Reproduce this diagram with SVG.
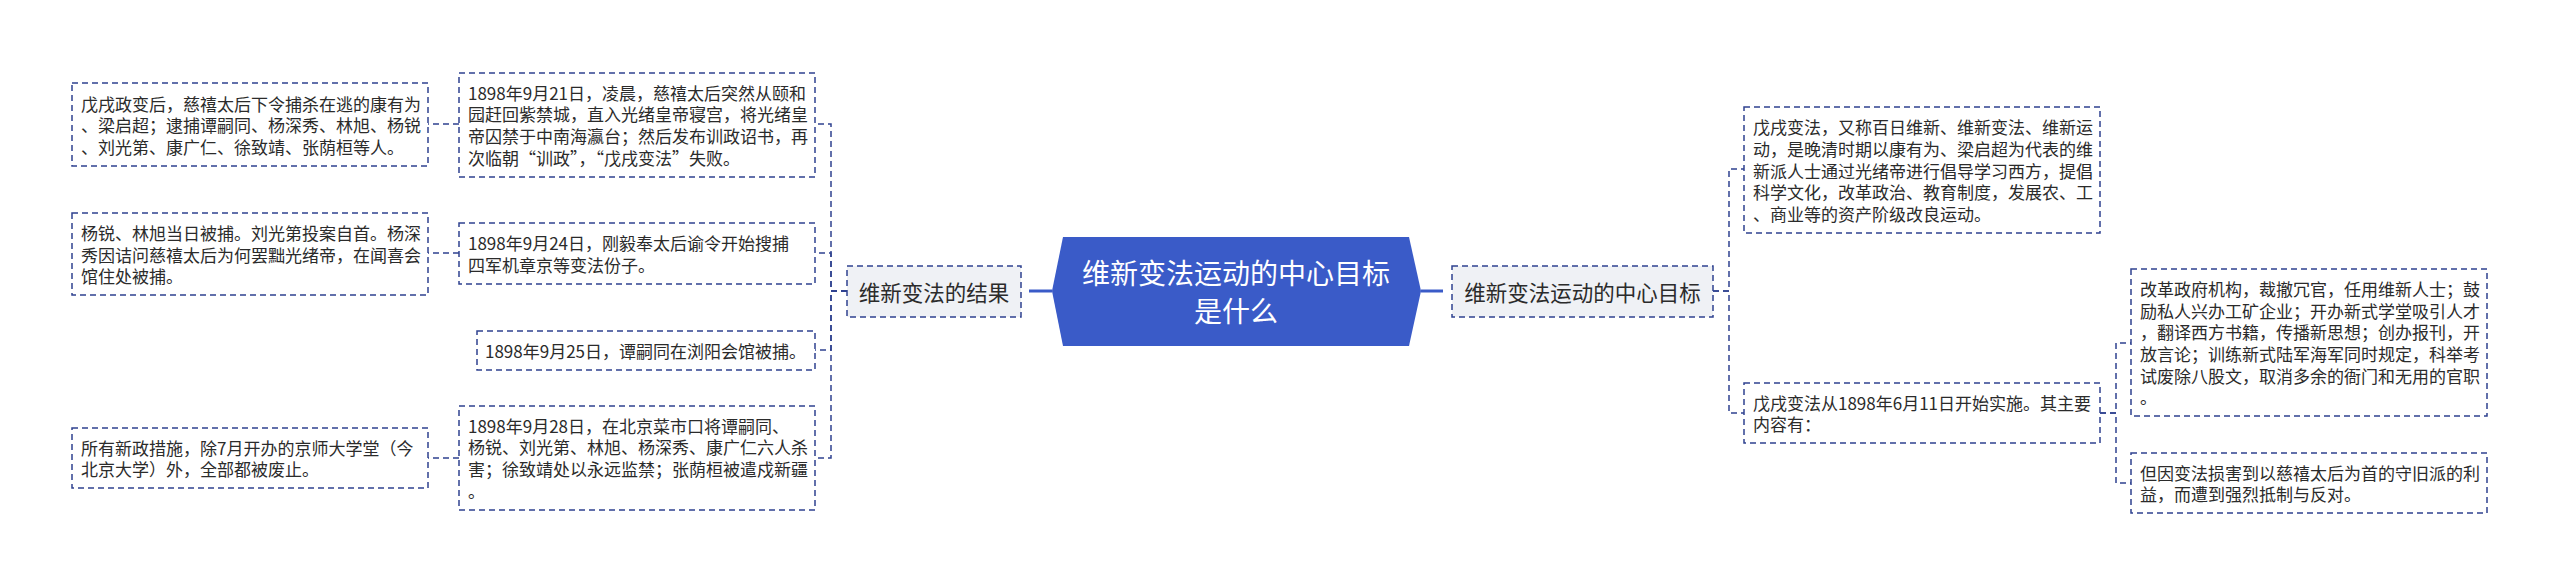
<svg xmlns="http://www.w3.org/2000/svg" width="2560" height="586" viewBox="0 0 2560 586">
<style>
.box{fill:#ffffff;stroke:#2f4290;stroke-width:1.5;stroke-dasharray:6 4}
.lbl{fill:#eff1f5;stroke:#2f4290;stroke-width:1.5;stroke-dasharray:6 4}
.t{font-family:"Noto Sans CJK SC","Noto Sans",sans-serif;font-size:17px;fill:#2b2b2b;dominant-baseline:central}
.tl{font-family:"Noto Sans CJK SC","Noto Sans",sans-serif;font-size:21.5px;fill:#2b2b2b;dominant-baseline:central;text-anchor:middle}
.tc{font-family:"Noto Sans CJK SC","Noto Sans",sans-serif;font-size:28px;fill:#ffffff;dominant-baseline:central;text-anchor:middle}
.c{fill:none;stroke:#2f4290;stroke-width:1.5;stroke-dasharray:6 4}
.cs{fill:none;stroke:#3a5bc8;stroke-width:3}
</style>
<rect width="2560" height="586" fill="#ffffff"/>
<g id="connectors">
<path class="cs" d="M1052 291 H1029"/>
<path class="cs" d="M1421 291 H1443"/>
<path class="c" d="M847 291 H831 V124 H815"/>
<path class="c" d="M847 291 H831 V253 H815"/>
<path class="c" d="M847 291 H831 V350 H815"/>
<path class="c" d="M847 291 H831 V458 H815"/>
<path class="c" d="M459 124 H428"/>
<path class="c" d="M459 253 H428"/>
<path class="c" d="M459 458 H428"/>
<path class="c" d="M1713 291 H1729 V169 H1744"/>
<path class="c" d="M1713 291 H1729 V413 H1744"/>
<path class="c" d="M2100 413 H2116 V343 H2131"/>
<path class="c" d="M2100 413 H2116 V483 H2131"/>
</g>
<g id="center">
<polygon points="1052,291 1063,237 1409,237 1421,291 1409,346 1063,346" fill="#3a5bc8"/>
<text class="tc" x="1236" y="272">维新变法运动的中心目标</text>
<text class="tc" x="1236" y="310">是什么</text>
</g>
<g id="result">
<rect class="lbl" x="847" y="266" width="174" height="51"/>
<text class="tl" x="934" y="291">维新变法的结果</text>
</g>
<g id="goal">
<rect class="lbl" x="1452" y="266" width="261" height="51"/>
<text class="tl" x="1582.5" y="291">维新变法运动的中心目标</text>
</g>
<g id="nodeA">
<rect class="box" x="72" y="83" width="356" height="83"/>
<text class="t" x="81" y="103">戊戌政变后，慈禧太后下令捕杀在逃的康有为</text>
<text class="t" x="81" y="124.7">、梁启超；逮捕谭嗣同、杨深秀、林旭、杨锐</text>
<text class="t" x="81" y="146.4">、刘光第、康广仁、徐致靖、张荫桓等人。</text>
</g>
<g id="nodeB">
<rect class="box" x="459" y="73" width="356" height="104"/>
<text class="t" x="468" y="92">1898年9月21日，凌晨，慈禧太后突然从颐和</text>
<text class="t" x="468" y="113.7">园赶回紫禁城，直入光绪皇帝寝宫，将光绪皇</text>
<text class="t" x="468" y="135.4">帝囚禁于中南海瀛台；然后发布训政诏书，再</text>
<text class="t" x="468" y="157.1">次临朝“训政”，“戊戌变法”失败。</text>
</g>
<g id="nodeC">
<rect class="box" x="72" y="213" width="356" height="82"/>
<text class="t" x="81" y="232.5">杨锐、林旭当日被捕。刘光第投案自首。杨深</text>
<text class="t" x="81" y="254.2">秀因诘问慈禧太后为何罢黜光绪帝，在闻喜会</text>
<text class="t" x="81" y="275.9">馆住处被捕。</text>
</g>
<g id="nodeD">
<rect class="box" x="459" y="223" width="356" height="61"/>
<text class="t" x="468" y="242.7">1898年9月24日，刚毅奉太后谕令开始搜捕</text>
<text class="t" x="468" y="264.4">四军机章京等变法份子。</text>
</g>
<g id="nodeE">
<rect class="box" x="477" y="331" width="338" height="39"/>
<text class="t" x="485" y="350.5">1898年9月25日，谭嗣同在浏阳会馆被捕。</text>
</g>
<g id="nodeF">
<rect class="box" x="459" y="406" width="356" height="104"/>
<text class="t" x="468" y="425">1898年9月28日，在北京菜市口将谭嗣同、</text>
<text class="t" x="468" y="446.7">杨锐、刘光第、林旭、杨深秀、康广仁六人杀</text>
<text class="t" x="468" y="468.4">害；徐致靖处以永远监禁；张荫桓被遣戍新疆</text>
<text class="t" x="468" y="490.1">。</text>
</g>
<g id="nodeG">
<rect class="box" x="72" y="428" width="356" height="60"/>
<text class="t" x="81" y="447.2">所有新政措施，除7月开办的京师大学堂（今</text>
<text class="t" x="81" y="468.9">北京大学）外，全部都被废止。</text>
</g>
<g id="nodeH">
<rect class="box" x="1744" y="107" width="356" height="126"/>
<text class="t" x="1753" y="126.6">戊戌变法，又称百日维新、维新变法、维新运</text>
<text class="t" x="1753" y="148.3">动，是晚清时期以康有为、梁启超为代表的维</text>
<text class="t" x="1753" y="170">新派人士通过光绪帝进行倡导学习西方，提倡</text>
<text class="t" x="1753" y="191.7">科学文化，改革政治、教育制度，发展农、工</text>
<text class="t" x="1753" y="213.4">、商业等的资产阶级改良运动。</text>
</g>
<g id="nodeI">
<rect class="box" x="1744" y="383" width="356" height="60"/>
<text class="t" x="1753" y="402.2">戊戌变法从1898年6月11日开始实施。其主要</text>
<text class="t" x="1753" y="423.9">内容有：</text>
</g>
<g id="nodeJ">
<rect class="box" x="2131" y="269" width="356" height="147"/>
<text class="t" x="2140" y="288.3">改革政府机构，裁撤冗官，任用维新人士；鼓</text>
<text class="t" x="2140" y="310">励私人兴办工矿企业；开办新式学堂吸引人才</text>
<text class="t" x="2140" y="331.7">，翻译西方书籍，传播新思想；创办报刊，开</text>
<text class="t" x="2140" y="353.4">放言论；训练新式陆军海军同时规定，科举考</text>
<text class="t" x="2140" y="375.1">试废除八股文，取消多余的衙门和无用的官职</text>
<text class="t" x="2140" y="396.8">。</text>
</g>
<g id="nodeK">
<rect class="box" x="2131" y="453" width="356" height="60"/>
<text class="t" x="2140" y="472.2">但因变法损害到以慈禧太后为首的守旧派的利</text>
<text class="t" x="2140" y="493.9">益，而遭到强烈抵制与反对。</text>
</g>
</svg>
